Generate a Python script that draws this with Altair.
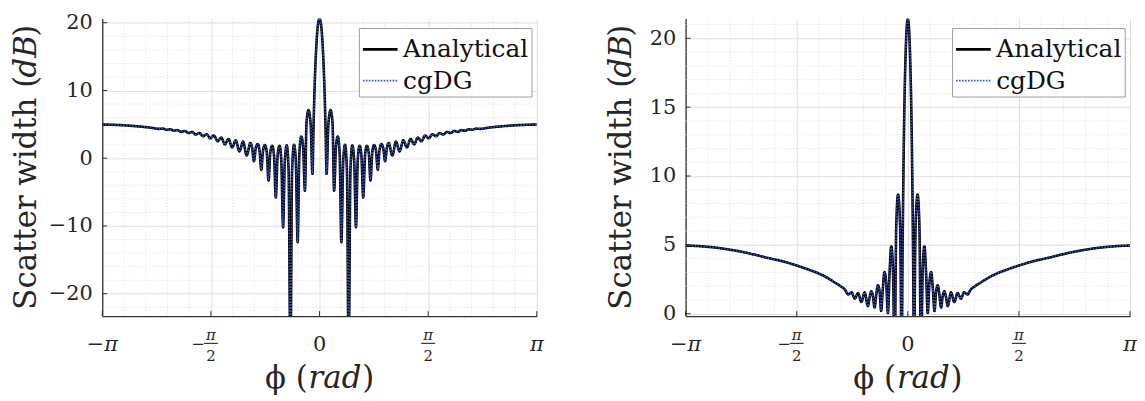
import math
import altair as alt
import pandas as pd

PI = math.pi
FONT = "DejaVu Serif"
TXT = "#262626"
SERIES = ["Analytical", "cgDG"]

# ---------------- left panel ----------------
L_PHI = [
    -3.1416, -3.00, -2.80, -2.60, -2.45, -2.316, -2.263, -2.211, -2.158, -2.106,
    -2.053, -2.001, -1.948, -1.895, -1.842, -1.790, -1.737, -1.685, -1.632, -1.580,
    -1.526, -1.474, -1.421, -1.369, -1.316, -1.264, -1.211, -1.158, -1.105, -1.053,
    -1.000, -0.974, -0.948, -0.923, -0.895, -0.868, -0.842, -0.818, -0.790, -0.763,
    -0.737, -0.712, -0.684, -0.658, -0.632, -0.607, -0.579, -0.553, -0.527, -0.502,
    -0.474, -0.447, -0.421, -0.397, -0.369, -0.343, -0.316, -0.292, -0.264, -0.238,
    -0.211, -0.188, -0.160, -0.128, -0.102, -0.088, -0.074, -0.058, -0.040, -0.020,
    0.000,
    0.020, 0.040, 0.058, 0.074, 0.088, 0.102, 0.128, 0.160, 0.188, 0.211,
    0.238, 0.264, 0.292, 0.316, 0.343, 0.369, 0.397, 0.421, 0.447, 0.474,
    0.502, 0.527, 0.553, 0.579, 0.607, 0.632, 0.658, 0.684, 0.712, 0.737,
    0.763, 0.790, 0.818, 0.842, 0.868, 0.895, 0.923, 0.948, 0.974, 1.000,
    1.053, 1.105, 1.158, 1.211, 1.264, 1.316, 1.369, 1.421, 1.474, 1.526,
    1.580, 1.632, 1.685, 1.737, 1.790, 1.842, 1.895, 1.948, 2.001, 2.053,
    2.106, 2.158, 2.211, 2.263, 2.316, 2.45, 2.60, 2.80, 3.00, 3.1416,
]
L_DB = [
    4.97, 4.94, 4.84, 4.68, 4.52, 4.33, 4.37, 4.20, 4.27, 4.06,
    4.15, 3.90, 4.02, 3.72, 3.88, 3.50, 3.72, 3.25, 3.55, 2.95,
    3.35, 2.50, 3.05, 2.05, 2.85, 1.60, 2.65, 1.00, 2.45, 0.40,
    2.25, 1.50, -0.45, 1.40, 2.10, 1.20, -1.70, 1.00, 1.95, 0.90,
    -3.30, 0.80, 1.85, 0.40, -5.80, 0.20, 1.85, -0.20, -10.20, -0.50,
    1.90, -1.80, -30.0, -2.00, 2.00, -0.30, -12.40, 0.50, 3.20, 1.80,
    -4.80, 5.20, 7.10, 5.00, -2.30, 4.00, 9.50, 14.00, 17.60, 19.90,
    20.60,
    19.90, 17.60, 14.00, 9.50, 4.00, -2.30, 5.00, 7.10, 5.20, -4.80,
    1.80, 3.20, 0.50, -12.40, -0.30, 2.00, -2.00, -30.0, -1.80, 1.90,
    -0.50, -10.20, -0.20, 1.85, 0.20, -5.80, 0.40, 1.85, 0.80, -3.30,
    0.90, 1.95, 1.00, -1.70, 1.20, 2.10, 1.40, -0.45, 1.50, 2.25,
    0.40, 2.45, 1.00, 2.65, 1.60, 2.85, 2.05, 3.05, 2.50, 3.35,
    2.95, 3.55, 3.25, 3.72, 3.50, 3.88, 3.72, 4.02, 3.90, 4.15,
    4.06, 4.27, 4.20, 4.37, 4.33, 4.52, 4.68, 4.84, 4.94, 4.97,
]

# ---------------- right panel ----------------
R_PHI = [
    -3.1416, -2.95, -2.75, -2.55, -2.35, -2.15, -1.95, -1.75, -1.57, -1.40,
    -1.25, -1.135, -1.02, -0.95, -0.889, -0.843, -0.796, -0.750, -0.703,
    -0.657, -0.610, -0.564, -0.540, -0.516, -0.494, -0.470, -0.446, -0.423, -0.399,
    -0.377, -0.354, -0.330, -0.306, -0.281, -0.258, -0.234, -0.211, -0.186, -0.164,
    -0.138, -0.110, -0.086, -0.076, -0.065, -0.052, -0.036, -0.018,
    0.000,
    0.018, 0.036, 0.052, 0.065, 0.076, 0.086, 0.110, 0.138, 0.164, 0.186,
    0.211, 0.234, 0.258, 0.281, 0.306, 0.330, 0.354, 0.377, 0.399, 0.423,
    0.446, 0.470, 0.494, 0.516, 0.540, 0.564, 0.610, 0.657, 0.703, 0.750,
    0.796, 0.843, 0.889, 0.95, 1.02, 1.135, 1.25, 1.40, 1.57,
    1.75, 1.95, 2.15, 2.35, 2.55, 2.75, 2.95, 3.1416,
]
R_DB = [
    4.95, 4.91, 4.82, 4.68, 4.50, 4.27, 4.02, 3.78, 3.50, 3.20,
    2.90, 2.60, 2.23, 2.00, 1.75, 1.40, 1.55, 1.10, 1.50,
    0.85, 1.55, 0.55, 1.20, 1.63, 1.30, 0.45, 1.40, 2.07, 1.60,
    0.20, 1.80, 3.03, 2.30, 0.05, 3.00, 4.90, 3.30, -3.0, 6.30,
    8.65, 6.50, -3.0, 3.50, 9.00, 14.00, 18.00, 20.60,
    21.40,
    20.60, 18.00, 14.00, 9.00, 3.50, -3.0, 6.50, 8.65, 6.30, -3.0,
    3.30, 4.90, 3.00, 0.05, 2.30, 3.03, 1.80, 0.20, 1.60, 2.07,
    1.40, 0.45, 1.30, 1.63, 1.20, 0.55, 1.55, 0.85, 1.50, 1.10,
    1.55, 1.40, 1.75, 2.00, 2.23, 2.60, 2.90, 3.20, 3.50,
    3.78, 4.02, 4.27, 4.50, 4.68, 4.82, 4.91, 4.95,
]

# ---------------- axes values ----------------
X_MAJOR = [-PI, -PI / 2, 0.0, PI / 2, PI]
X_MINOR = [-0.9 * PI, -0.8 * PI, -0.7 * PI, -0.6 * PI, -0.4 * PI, -0.3 * PI, -0.2 * PI, -0.1 * PI,
           0.1 * PI, 0.2 * PI, 0.3 * PI, 0.4 * PI, 0.6 * PI, 0.7 * PI, 0.8 * PI, 0.9 * PI]
X_PI_POS = [-PI, PI]
X_PI_TXT = ["\u2212\u03c0", "\u03c0"]
X_ZERO_POS = [0.0]
X_ZERO_TXT = ["0"]
X_FRAC_POS = [-PI / 2, PI / 2]
X_FRAC_NUM = ["\u03c0", "\u03c0"]
X_FRAC_DEN = ["2", "2"]
X_SIGN_POS = [-PI / 2]
X_SIGN_TXT = ["\u2212"]

L_Y_DOMAIN = [-23.3, 20.63]
L_Y_MAJOR = [-20, -10, 0, 10, 20]
L_Y_MINOR = [-22, -18, -16, -14, -12, -8, -6, -4, -2, 2, 4, 6, 8, 12, 14, 16, 18]
R_Y_DOMAIN = [-0.17, 21.44]
R_Y_MAJOR = [0, 5, 10, 15, 20]
R_Y_MINOR = [1, 2, 3, 4, 6, 7, 8, 9, 11, 12, 13, 14, 16, 17, 18, 19, 21]

Y_TITLE = ["Scatter width (", "dB", ")"]
X_TITLE = ["\u03d5 (", "rad", ")"]
T_STYLE = ["normal", "italic", "normal"]

GRID = "#dedede"
MINOR = "#e0e0e0"
AXIS = "#333333"


def panel(phi, db, ydom, ymaj, ymin, W, H, legx, legy, ytx):
    n = len(phi)
    df = pd.DataFrame({
        "phi": list(phi) + list(phi),
        "db": list(db) + list(db),
        "series": [SERIES[0]] * n + [SERIES[1]] * n,
    })
    xs = alt.Scale(domain=[-PI, PI], nice=False, zero=False)
    ys = alt.Scale(domain=ydom, nice=False, zero=False)
    xax = alt.Axis(values=X_MAJOR, labels=False, ticks=False, tickSize=0, grid=True,
                   gridColor=GRID, gridWidth=1, domain=True, domainColor=AXIS,
                   domainWidth=1.3, title="")
    yax = alt.Axis(values=ymaj, labels=True, ticks=False, tickSize=0, labelPadding=10,
                   labelFont=FONT, labelFontSize=21, labelColor=TXT, grid=True,
                   gridColor=GRID, gridWidth=1, domain=True, domainColor=AXIS,
                   domainWidth=1.3, title="")
    leg = alt.Legend(
        title=None, orient="none", legendX=legx, legendY=legy,
        fillColor="white", strokeColor="#9c9c9c", padding=2.5,
        symbolType="stroke", symbolSize=1225, labelFont=FONT, labelFontSize=25,
        labelColor="#111111", labelOffset=4, rowPadding=0, labelLimit=400,
    )
    X = lambda f: alt.X(f, scale=xs, axis=xax)
    Y = lambda f: alt.Y(f, scale=ys, axis=yax)

    xminor = alt.Chart(pd.DataFrame({"v": X_MINOR})).mark_rule(
        color=MINOR, strokeDash=[1, 2], strokeWidth=1).encode(x=X("v:Q"))
    yminor = alt.Chart(pd.DataFrame({"v": ymin})).mark_rule(
        color=MINOR, strokeDash=[1, 2], strokeWidth=1).encode(y=Y("v:Q"))
    lines = alt.Chart(df).mark_line(clip=True, interpolate="monotone").encode(
        x=X("phi:Q"),
        y=Y("db:Q"),
        color=alt.Color("series:N", scale=alt.Scale(domain=SERIES, range=["#000000", "#3352c4"]), legend=leg),
        strokeDash=alt.StrokeDash("series:N", scale=alt.Scale(domain=SERIES, range=[[1, 0], [1.6, 1.4]]), legend=leg),
        strokeWidth=alt.StrokeWidth("series:N", scale=alt.Scale(domain=SERIES, range=[2.6, 1.6]), legend=leg),
    )
    yticks = alt.Chart(pd.DataFrame({"v": ymaj})).mark_rule(color=AXIS, strokeWidth=1).encode(
        y=Y("v:Q"), x=alt.value(0), x2=alt.value(5))
    xticks = alt.Chart(pd.DataFrame({"v": X_MAJOR})).mark_rule(color=AXIS, strokeWidth=1).encode(
        x=X("v:Q"), y=alt.value(H), y2=alt.value(H - 5))
    xl_pi = alt.Chart(pd.DataFrame({"v": X_PI_POS, "t": X_PI_TXT})).mark_text(
        font=FONT, fontSize=21, fontStyle="italic", color=TXT, baseline="middle", align="center").encode(
        x=X("v:Q"), y=alt.value(H + 29), text="t:N")
    xl_zero = alt.Chart(pd.DataFrame({"v": X_ZERO_POS, "t": X_ZERO_TXT})).mark_text(
        font=FONT, fontSize=21, color=TXT, baseline="middle", align="center").encode(
        x=X("v:Q"), y=alt.value(H + 29), text="t:N")
    xl_num = alt.Chart(pd.DataFrame({"v": X_FRAC_POS, "t": X_FRAC_NUM})).mark_text(
        font=FONT, fontSize=15, fontStyle="italic", color=TXT, baseline="middle", align="center").encode(
        x=X("v:Q"), y=alt.value(H + 19), text="t:N")
    xl_den = alt.Chart(pd.DataFrame({"v": X_FRAC_POS, "t": X_FRAC_DEN})).mark_text(
        font=FONT, fontSize=15, color=TXT, baseline="middle", align="center").encode(
        x=X("v:Q"), y=alt.value(H + 40), text="t:N")
    xl_bar = alt.Chart(pd.DataFrame({"v": X_FRAC_POS})).mark_rule(
        color=TXT, strokeWidth=1.1, xOffset=-7, x2Offset=7).encode(
        x=X("v:Q"), x2="v:Q", y=alt.value(H + 27.5))
    xl_sign = alt.Chart(pd.DataFrame({"v": X_SIGN_POS, "t": X_SIGN_TXT})).mark_text(
        font=FONT, fontSize=16, color=TXT, baseline="middle", align="center", dx=-13).encode(
        x=X("v:Q"), y=alt.value(H + 28), text="t:N")

    ypos = [293.5, 59.5, 18.5]
    ytitle = [
        alt.Chart(pd.DataFrame({"t": [Y_TITLE[i]]})).mark_text(
            font=FONT, fontSize=31, color=TXT, angle=270, align="left", baseline="middle",
            fontStyle=T_STYLE[i]).encode(x=alt.value(ytx), y=alt.value(ypos[i]), text="t:N")
        for i in range(3)
    ]
    xpos = [W / 2 - 55, W / 2 - 11, W / 2 + 43]
    xtitle = [
        alt.Chart(pd.DataFrame({"t": [X_TITLE[i]]})).mark_text(
            font=FONT, fontSize=31, color=TXT, align="left", baseline="middle",
            fontStyle=T_STYLE[i]).encode(x=alt.value(xpos[i]), y=alt.value(H + 63), text="t:N")
        for i in range(3)
    ]
    return alt.layer(xminor, yminor, lines, yticks, xticks, xl_pi, xl_zero, xl_num, xl_den, xl_bar,
                     xl_sign, *ytitle, *xtitle).properties(width=W, height=H)


left = panel(L_PHI, L_DB, L_Y_DOMAIN, L_Y_MAJOR, L_Y_MINOR, 438, 300, 258.7, 9.7, -76)
right = panel(R_PHI, R_DB, R_Y_DOMAIN, R_Y_MAJOR, R_Y_MINOR, 448, 300, 268.6, 9.7, -64)

chart = alt.hconcat(left, right, spacing=62).resolve_scale(
    x="independent", y="independent", color="independent",
    strokeDash="independent", strokeWidth="independent",
).resolve_legend(color="independent", strokeDash="independent", strokeWidth="independent").properties(
    padding={"left": 2, "top": 2, "right": 0, "bottom": 0}, background="white",
).configure_view(stroke=None)

chart.save("out.html", embed_options={"renderer": "svg", "actions": False})
